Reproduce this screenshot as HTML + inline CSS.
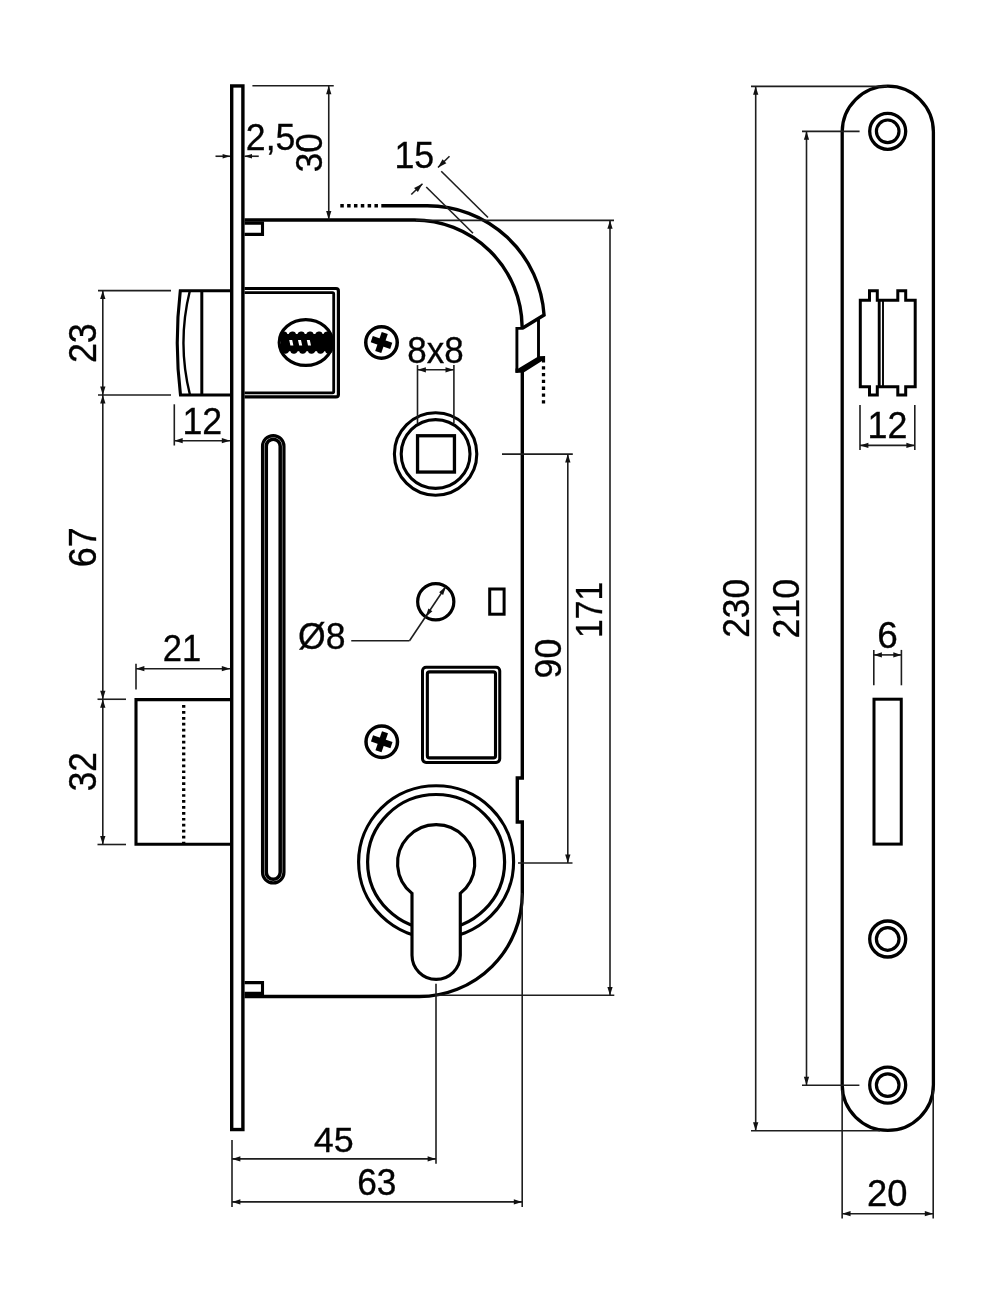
<!DOCTYPE html>
<html><head><meta charset="utf-8"><title>Lock drawing</title>
<style>html,body{margin:0;padding:0;background:#fff;overflow:hidden}svg{display:block}text{font-family:"Liberation Sans",sans-serif;fill:#000;stroke:#000;stroke-width:0.9px}</style>
</head><body>
<svg width="1000" height="1304" viewBox="0 0 1000 1304">
<rect width="1000" height="1304" fill="#fff"/>
<rect x="231.7" y="85.95" width="11.2" height="1043.6" fill="#fff" stroke="#000" stroke-width="3.4"/>
<path d="M244.5,220 H414.1 A107.8,107.8 0 0 1 522.1,326.3 L522.3,328.3 M522.3,372 V778 H517.3 V822 H522.3 V893.5 A103,103 0 0 1 419.3,996.5 H244.5" fill="none" stroke="#000" stroke-width="3.4" />
<path d="M381.3,205.75 H427.3 A117,117 0 0 1 544.05,315 L522.4,328.3" fill="none" stroke="#000" stroke-width="3.4" />
<path d="M340.3,205.75 H379" fill="none" stroke="#000" stroke-width="3.3" stroke-dasharray="3.5 3.33"/>
<path d="M523,328.4 H516.9 V372.7 M538.5,318.5 V358" fill="none" stroke="#000" stroke-width="2.9" />
<polygon points="518.3,368.5 538.6,356.2 545.1,356.1 545.1,362.5 541.9,362.5 541.9,360.9 523.7,372.4 523.9,372.7 515.5,372.7 515.5,368.5" fill="#000"/>
<path d="M543.5,366.2 V404" fill="none" stroke="#000" stroke-width="3.3" stroke-dasharray="3.3 3.5"/>
<path d="M244.5,223.1 H262.5 V234.4 H244.5" fill="none" stroke="#000" stroke-width="3.1" />
<path d="M244.5,982.6 H262.5 V993.4 H244.5" fill="none" stroke="#000" stroke-width="3.1" />
<path d="M231,290.7 H180.3 Q174.1,343 180.5,395 H231" fill="none" stroke="#000" stroke-width="3.1" />
<path d="M189.8,291 Q177,343 190,395" fill="none" stroke="#000" stroke-width="2.4" />
<path d="M201.8,291 V395" fill="none" stroke="#000" stroke-width="3.0" />
<path d="M244.5,288.5 H336 Q338.4,288.5 338.4,291 V394.4 Q338.4,396.9 336,396.9 H244.5" fill="none" stroke="#000" stroke-width="3.2" />
<path d="M244.5,292.7 H332.5 Q333.7,292.7 333.7,294 V391.6 Q333.7,392.8 332.5,392.8 H244.5" fill="none" stroke="#000" stroke-width="2.8" />
<ellipse cx="305.8" cy="342.5" rx="26.6" ry="22.9" fill="none" stroke="#000" stroke-width="3.2"/>
<rect x="281" y="334" width="51.5" height="17.2" fill="#000"/>
<line x1="283.8" y1="335.3" x2="285.40000000000003" y2="350" stroke="#000" stroke-width="7.4" stroke-linecap="round"/>
<line x1="292.4" y1="335.3" x2="294.0" y2="350" stroke="#000" stroke-width="7.4" stroke-linecap="round"/>
<line x1="301.2" y1="335.3" x2="302.8" y2="350" stroke="#000" stroke-width="7.4" stroke-linecap="round"/>
<line x1="310.0" y1="335.3" x2="311.6" y2="350" stroke="#000" stroke-width="7.4" stroke-linecap="round"/>
<line x1="319.0" y1="335.3" x2="320.6" y2="350" stroke="#000" stroke-width="7.4" stroke-linecap="round"/>
<line x1="327.2" y1="335.3" x2="328.8" y2="350" stroke="#000" stroke-width="7.4" stroke-linecap="round"/>
<polygon points="289.2,340 292.2,340 293.4,345.6 290.4,345.6" fill="#fff"/>
<polygon points="298,340 301.0,340 302.2,345.6 299.2,345.6" fill="#fff"/>
<polygon points="306.8,340 309.8,340 311.0,345.6 308.0,345.6" fill="#fff"/>
<circle cx="381.5" cy="342.5" r="15.75" fill="none" stroke="#000" stroke-width="3.5"/>
<g transform="translate(381.5,342.5) rotate(19)"><rect x="-10.3" y="-3.2" width="20.6" height="6.4" fill="#000"/><rect x="-3.2" y="-10" width="6.4" height="20" fill="#000"/></g>
<circle cx="381.75" cy="741.75" r="15.75" fill="none" stroke="#000" stroke-width="3.5"/>
<g transform="translate(381.75,741.75) rotate(19)"><rect x="-10.3" y="-3.2" width="20.6" height="6.4" fill="#000"/><rect x="-3.2" y="-10" width="6.4" height="20" fill="#000"/></g>
<circle cx="435.6" cy="454" r="41.2" fill="none" stroke="#000" stroke-width="3.1"/>
<circle cx="435.6" cy="454" r="34.4" fill="none" stroke="#000" stroke-width="3.1"/>
<rect x="417.55" y="435.75" width="36.9" height="36.3" fill="none" stroke="#000" stroke-width="3.3"/>
<circle cx="435.75" cy="601.75" r="18.1" fill="none" stroke="#000" stroke-width="3.2"/>
<rect x="489.7" y="589" width="14.4" height="25.2" fill="none" stroke="#000" stroke-width="3"/>
<rect x="422.5" y="667.2" width="77.25" height="95.2" rx="3.6" fill="none" stroke="#000" stroke-width="3.0"/>
<rect x="427.35" y="671.85" width="68.15" height="86.05" rx="2.2" fill="none" stroke="#000" stroke-width="3.1"/>
<rect x="262.55" y="435.6" width="21.4" height="447.3" rx="10.7" fill="none" stroke="#000" stroke-width="3.2"/>
<rect x="266.3" y="439.25" width="13.9" height="440" rx="6.95" fill="none" stroke="#000" stroke-width="3.5"/>
<path d="M231,699.6 H136 V844.2 H231" fill="none" stroke="#000" stroke-width="3.1" />
<path d="M183.7,705.05 V843" fill="none" stroke="#000" stroke-width="3.3" stroke-dasharray="2.7 3.24"/>
<ellipse cx="436.1" cy="862.0" rx="77.5" ry="76.3" fill="none" stroke="#000" stroke-width="3.15"/>
<ellipse cx="436.1" cy="862.0" rx="68.5" ry="67.5" fill="none" stroke="#000" stroke-width="3.2"/>
<path d="M412.0,893.37 A38.6,38.6 0 1 1 460.3,893.37 V955.25 A24.150000000000006,24.150000000000006 0 0 1 412.0,955.25 Z" fill="#fff" stroke="#000" stroke-width="3.15"/>
<line x1="215.50" y1="156.25" x2="230.00" y2="156.25" stroke="#1e1e1e" stroke-width="1.6" />
<polygon points="230.20,156.25 222.60,158.50 222.60,154.00" fill="#111"/>
<line x1="244.60" y1="156.25" x2="258.75" y2="156.25" stroke="#1e1e1e" stroke-width="1.6" />
<polygon points="244.40,156.25 252.00,154.00 252.00,158.50" fill="#111"/>
<line x1="252.40" y1="85.75" x2="333.75" y2="85.75" stroke="#1e1e1e" stroke-width="1.6" />
<line x1="328.75" y1="85.75" x2="328.75" y2="219.50" stroke="#1e1e1e" stroke-width="1.6" />
<polygon points="328.75,85.75 331.40,94.15 326.10,94.15" fill="#111"/>
<polygon points="328.75,219.50 326.10,211.10 331.40,211.10" fill="#111"/>
<line x1="449.50" y1="156.25" x2="438.00" y2="167.50" stroke="#1e1e1e" stroke-width="1.6" />
<polygon points="438.00,167.50 442.51,159.24 446.36,163.17" fill="#111"/>
<line x1="441.25" y1="171.25" x2="488.00" y2="217.50" stroke="#1e1e1e" stroke-width="1.6" />
<line x1="411.25" y1="194.50" x2="422.50" y2="183.75" stroke="#1e1e1e" stroke-width="1.6" />
<polygon points="422.50,183.75 417.89,191.96 414.09,187.98" fill="#111"/>
<line x1="426.25" y1="187.00" x2="473.00" y2="233.25" stroke="#1e1e1e" stroke-width="1.6" />
<line x1="416.00" y1="220.40" x2="614.00" y2="220.40" stroke="#1e1e1e" stroke-width="1.6" />
<line x1="436.00" y1="995.30" x2="614.30" y2="995.30" stroke="#1e1e1e" stroke-width="1.6" />
<line x1="610.00" y1="220.40" x2="610.00" y2="995.30" stroke="#1e1e1e" stroke-width="1.6" />
<polygon points="610.00,220.40 612.65,228.80 607.35,228.80" fill="#111"/>
<polygon points="610.00,995.30 607.35,986.90 612.65,986.90" fill="#111"/>
<line x1="502.00" y1="454.10" x2="572.80" y2="454.10" stroke="#1e1e1e" stroke-width="1.6" />
<line x1="518.00" y1="863.00" x2="572.50" y2="863.00" stroke="#1e1e1e" stroke-width="1.6" />
<line x1="567.80" y1="454.10" x2="567.80" y2="863.00" stroke="#1e1e1e" stroke-width="1.6" />
<polygon points="567.80,454.10 570.45,462.50 565.15,462.50" fill="#111"/>
<polygon points="567.80,863.00 565.15,854.60 570.45,854.60" fill="#111"/>
<line x1="98.00" y1="290.60" x2="171.00" y2="290.60" stroke="#1e1e1e" stroke-width="1.6" />
<line x1="98.00" y1="395.00" x2="171.00" y2="395.00" stroke="#1e1e1e" stroke-width="1.6" />
<line x1="102.80" y1="290.60" x2="102.80" y2="395.00" stroke="#1e1e1e" stroke-width="1.6" />
<polygon points="102.80,290.60 105.45,299.00 100.15,299.00" fill="#111"/>
<polygon points="102.80,395.00 100.15,386.60 105.45,386.60" fill="#111"/>
<line x1="102.80" y1="395.00" x2="102.80" y2="699.25" stroke="#1e1e1e" stroke-width="1.6" />
<polygon points="102.80,395.00 105.45,403.40 100.15,403.40" fill="#111"/>
<polygon points="102.80,699.25 100.15,690.85 105.45,690.85" fill="#111"/>
<line x1="97.50" y1="699.25" x2="126.00" y2="699.25" stroke="#1e1e1e" stroke-width="1.6" />
<line x1="97.50" y1="844.50" x2="126.00" y2="844.50" stroke="#1e1e1e" stroke-width="1.6" />
<line x1="102.80" y1="699.25" x2="102.80" y2="844.50" stroke="#1e1e1e" stroke-width="1.6" />
<polygon points="102.80,699.25 105.45,707.65 100.15,707.65" fill="#111"/>
<polygon points="102.80,844.50 100.15,836.10 105.45,836.10" fill="#111"/>
<line x1="174.30" y1="404.30" x2="174.30" y2="445.50" stroke="#1e1e1e" stroke-width="1.6" />
<line x1="174.30" y1="440.70" x2="230.20" y2="440.70" stroke="#1e1e1e" stroke-width="1.6" />
<polygon points="174.30,440.70 182.70,438.05 182.70,443.35" fill="#111"/>
<polygon points="230.20,440.70 221.80,443.35 221.80,438.05" fill="#111"/>
<line x1="136.00" y1="663.75" x2="136.00" y2="689.60" stroke="#1e1e1e" stroke-width="1.6" />
<line x1="136.00" y1="668.70" x2="230.20" y2="668.70" stroke="#1e1e1e" stroke-width="1.6" />
<polygon points="136.00,668.70 144.40,666.05 144.40,671.35" fill="#111"/>
<polygon points="230.20,668.70 221.80,671.35 221.80,666.05" fill="#111"/>
<line x1="351.25" y1="640.75" x2="409.50" y2="640.75" stroke="#1e1e1e" stroke-width="1.6" />
<line x1="409.50" y1="640.75" x2="445.50" y2="587.00" stroke="#1e1e1e" stroke-width="1.6" />
<polygon points="445.85,586.60 443.13,595.00 439.14,592.34" fill="#111"/>
<polygon points="425.65,616.90 428.37,608.50 432.36,611.16" fill="#111"/>
<line x1="417.50" y1="365.10" x2="417.50" y2="423.00" stroke="#1e1e1e" stroke-width="1.6" />
<line x1="453.90" y1="365.10" x2="453.90" y2="423.00" stroke="#1e1e1e" stroke-width="1.6" />
<line x1="417.50" y1="369.80" x2="453.90" y2="369.80" stroke="#1e1e1e" stroke-width="1.6" />
<polygon points="417.50,369.80 425.90,367.15 425.90,372.45" fill="#111"/>
<polygon points="453.90,369.80 445.50,372.45 445.50,367.15" fill="#111"/>
<line x1="436.00" y1="983.75" x2="436.00" y2="1163.70" stroke="#1e1e1e" stroke-width="1.6" />
<line x1="232.00" y1="1140.00" x2="232.00" y2="1207.00" stroke="#1e1e1e" stroke-width="1.6" />
<line x1="522.20" y1="893.00" x2="522.20" y2="1206.90" stroke="#1e1e1e" stroke-width="1.6" />
<line x1="232.00" y1="1158.90" x2="436.00" y2="1158.90" stroke="#1e1e1e" stroke-width="1.6" />
<polygon points="232.00,1158.90 240.40,1156.25 240.40,1161.55" fill="#111"/>
<polygon points="436.00,1158.90 427.60,1161.55 427.60,1156.25" fill="#111"/>
<line x1="232.00" y1="1201.90" x2="522.20" y2="1201.90" stroke="#1e1e1e" stroke-width="1.6" />
<polygon points="232.00,1201.90 240.40,1199.25 240.40,1204.55" fill="#111"/>
<polygon points="522.20,1201.90 513.80,1204.55 513.80,1199.25" fill="#111"/>
<rect x="842.2" y="86.2" width="91.2" height="1044.2" rx="45.6" fill="none" stroke="#000" stroke-width="3.3"/>
<circle cx="887.7" cy="131.3" r="18.0" fill="none" stroke="#000" stroke-width="3.3"/>
<circle cx="887.7" cy="131.3" r="11.3" fill="none" stroke="#000" stroke-width="3.2"/>
<circle cx="887.7" cy="939.0" r="18.0" fill="none" stroke="#000" stroke-width="3.3"/>
<circle cx="887.7" cy="939.0" r="11.3" fill="none" stroke="#000" stroke-width="3.2"/>
<circle cx="887.7" cy="1085.1" r="18.0" fill="none" stroke="#000" stroke-width="3.3"/>
<circle cx="887.7" cy="1085.1" r="11.3" fill="none" stroke="#000" stroke-width="3.2"/>
<path d="M860.3,300.3 H869.5 V290.7 H877.3 V300.3 H897.8 V290.7 H905.7 V300.3 H915.2 V386.7 H905.7 V395.1 H897.8 V386.7 H877.3 V395.1 H869.5 V386.7 H860.3 Z" fill="none" stroke="#000" stroke-width="3.0" />
<path d="M879.2,300 V387" fill="none" stroke="#000" stroke-width="2.9" />
<path d="M883.0,300 V387" fill="none" stroke="#000" stroke-width="1.9" />
<rect x="874" y="699.2" width="27.25" height="144.9" fill="none" stroke="#000" stroke-width="3"/>
<line x1="751.00" y1="86.40" x2="887.00" y2="86.40" stroke="#1e1e1e" stroke-width="1.6" />
<line x1="751.00" y1="1130.70" x2="880.00" y2="1130.70" stroke="#1e1e1e" stroke-width="1.6" />
<line x1="755.70" y1="86.40" x2="755.70" y2="1130.70" stroke="#1e1e1e" stroke-width="1.6" />
<polygon points="755.70,86.40 758.35,94.80 753.05,94.80" fill="#111"/>
<polygon points="755.70,1130.70 753.05,1122.30 758.35,1122.30" fill="#111"/>
<line x1="802.00" y1="131.40" x2="859.60" y2="131.40" stroke="#1e1e1e" stroke-width="1.6" />
<line x1="802.00" y1="1085.20" x2="859.40" y2="1085.20" stroke="#1e1e1e" stroke-width="1.6" />
<line x1="806.50" y1="131.40" x2="806.50" y2="1085.20" stroke="#1e1e1e" stroke-width="1.6" />
<polygon points="806.50,131.40 809.15,139.80 803.85,139.80" fill="#111"/>
<polygon points="806.50,1085.20 803.85,1076.80 809.15,1076.80" fill="#111"/>
<line x1="860.00" y1="405.00" x2="860.00" y2="450.00" stroke="#1e1e1e" stroke-width="1.6" />
<line x1="914.80" y1="405.00" x2="914.80" y2="450.00" stroke="#1e1e1e" stroke-width="1.6" />
<line x1="860.00" y1="445.40" x2="914.80" y2="445.40" stroke="#1e1e1e" stroke-width="1.6" />
<polygon points="860.00,445.40 868.40,442.75 868.40,448.05" fill="#111"/>
<polygon points="914.80,445.40 906.40,448.05 906.40,442.75" fill="#111"/>
<line x1="873.80" y1="649.90" x2="873.80" y2="685.30" stroke="#1e1e1e" stroke-width="1.6" />
<line x1="901.40" y1="649.90" x2="901.40" y2="685.30" stroke="#1e1e1e" stroke-width="1.6" />
<line x1="873.80" y1="654.90" x2="901.40" y2="654.90" stroke="#1e1e1e" stroke-width="1.6" />
<polygon points="873.80,654.90 881.90,652.25 881.90,657.55" fill="#111"/>
<polygon points="901.40,654.90 893.30,657.55 893.30,652.25" fill="#111"/>
<line x1="842.15" y1="1090.00" x2="842.15" y2="1218.40" stroke="#1e1e1e" stroke-width="1.6" />
<line x1="933.20" y1="1090.00" x2="933.20" y2="1218.40" stroke="#1e1e1e" stroke-width="1.6" />
<line x1="842.15" y1="1213.70" x2="933.20" y2="1213.70" stroke="#1e1e1e" stroke-width="1.6" />
<polygon points="842.15,1213.70 850.55,1211.05 850.55,1216.35" fill="#111"/>
<polygon points="933.20,1213.70 924.80,1216.35 924.80,1211.05" fill="#111"/>
<g opacity="0.995">
<text transform="matrix(0.3565,0,0,0.3664,245.87,149.65)" font-size="100">2,5</text>
<text transform="matrix(0,-0.3495,0.3736,0,322.40,172.20)" font-size="100">30</text>
<text transform="matrix(0.3577,0,0,0.3629,394.42,168.30)" font-size="100">15</text>
<text transform="matrix(0,-0.3377,0.3664,0,602.40,638.10)" font-size="100">171</text>
<text transform="matrix(0,-0.3574,0.3729,0,561.00,678.49)" font-size="100">90</text>
<text transform="matrix(0,-0.3588,0.3829,0,95.80,363.09)" font-size="100">23</text>
<text transform="matrix(0,-0.3594,0.3829,0,95.80,567.20)" font-size="100">67</text>
<text transform="matrix(0,-0.3529,0.3829,0,95.80,791.31)" font-size="100">32</text>
<text transform="matrix(0.3573,0,0,0.3636,182.43,433.70)" font-size="100">12</text>
<text transform="matrix(0.3455,0,0,0.3614,162.87,661.20)" font-size="100">21</text>
<text transform="matrix(0.3556,0,0,0.3629,298.03,649.20)" font-size="100">Ø8</text>
<text transform="matrix(0.3500,0,0,0.3657,407.35,362.70)" font-size="100">8x8</text>
<text transform="matrix(0.3590,0,0,0.3600,313.78,1151.70)" font-size="100">45</text>
<text transform="matrix(0.3529,0,0,0.3671,357.24,1195.20)" font-size="100">63</text>
<text transform="matrix(0,-0.3532,0.3750,0,748.75,637.77)" font-size="100">230</text>
<text transform="matrix(0,-0.3579,0.3686,0,799.30,638.54)" font-size="100">210</text>
<text transform="matrix(0.3583,0,0,0.3657,867.62,438.00)" font-size="100">12</text>
<text transform="matrix(0.3696,0,0,0.3686,877.25,648.10)" font-size="100">6</text>
<text transform="matrix(0.3637,0,0,0.3643,867.08,1206.50)" font-size="100">20</text>
</g>
</svg>
</body></html>
